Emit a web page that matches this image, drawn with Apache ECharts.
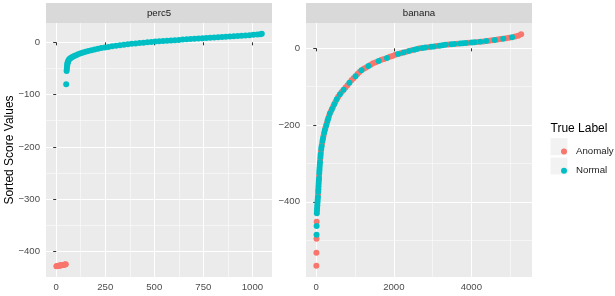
<!DOCTYPE html>
<html>
<head>
<meta charset="utf-8">
<script src="https://cdn.jsdelivr.net/npm/echarts@6/dist/echarts.min.js"></script>
<style>
html, body { margin: 0; padding: 0; background: #fff; }
#chart { width: 615px; height: 296px; }
</style>
</head>
<body>
<div id="chart"></div>
<script>
// perc5 panel: sorted index vs score
var perc5AnomalyX = [1, 5, 9, 13, 17, 21, 25, 29, 33, 37, 41, 45, 49];
var perc5AnomalyY = [-428.5, -428, -428, -427.5, -427, -427, -426.5, -426.5, -426, -426, -425.5, -425, -424.5];

var perc5NormalX = [51, 53, 54, 55, 56, 57, 58, 60, 62, 65, 69, 74, 80, 87, 95, 104, 114, 125, 137, 150,
    164, 180, 196, 213, 230, 248, 266, 285, 305, 325, 345, 365, 385, 405, 425, 445, 465, 485, 505, 525,
    545, 565, 585, 605, 625, 645, 665, 685, 705, 725, 745, 765, 785, 805, 825, 845, 865, 885, 905, 925,
    945, 965, 985, 1005, 1025, 1040, 1048];
var perc5NormalY = [-80, -55, -51, -47, -44, -41, -39, -37, -35, -33, -31.5, -30, -28.5, -27, -25.5, -24, -22.5, -21, -19.5, -18,
    -16.5, -15, -13.5, -12.2, -11, -9.8, -8.7, -7.6, -6.6, -5.6, -4.7, -3.8, -2.9, -2.1, -1.3, -0.6, 0.1, 0.8, 1.4, 2.0,
    2.6, 3.2, 3.7, 4.2, 4.7, 5.2, 5.7, 6.2, 6.7, 7.2, 7.7, 8.2, 8.7, 9.2, 9.7, 10.2, 10.7, 11.2, 11.7, 12.2,
    12.7, 13.2, 13.7, 14.3, 15.0, 15.6, 16.5];

// banana panel: one sorted curve, labels interleaved (A = Anomaly, N = Normal)
var bananaX = [2, 4, 6, 7, 9, 10,
    14, 18, 22, 27, 31, 36, 42, 46, 50, 54, 57, 61, 65, 70, 73, 77, 81, 85, 90, 95, 101, 107, 113, 120,
    128, 138, 150, 162, 175, 189, 204, 222,
    238, 255, 272, 290, 308, 327, 350, 378, 405, 433, 463, 493, 528, 566,
    610, 655, 705, 755, 805, 855, 909,
    960, 1012, 1064, 1115, 1166,
    1226, 1286, 1346, 1406, 1467,
    1538, 1610, 1681, 1752, 1824, 1895,
    1967, 2038, 2110, 2181, 2253, 2324,
    2393, 2462, 2530, 2600, 2668,
    2741, 2815, 2888, 2962, 3035, 3109, 3182,
    3257, 3332, 3407, 3482, 3557, 3634, 3709, 3784,
    3859, 3934, 4009, 4084, 4159, 4234, 4309, 4384,
    4457, 4530, 4604, 4677, 4750, 4824, 4898,
    4975, 5052, 5130, 5210, 5285];
var bananaY = [-567, -533, -496, -486, -463, -452,
    -430, -423, -416, -409, -402, -395, -388, -381, -374, -367, -360, -353, -346, -339, -332, -325, -318, -311, -304, -297, -290, -283, -276, -269,
    -262, -255, -248, -241, -234, -227, -220, -213,
    -207, -201, -195, -189, -183, -177, -170, -164, -158, -152, -146, -140, -133, -126,
    -120, -114, -108, -102, -96, -90, -83,
    -78, -73, -67, -62, -57,
    -53, -50, -46, -43, -39,
    -36, -33, -30, -28, -25, -22,
    -20, -17, -15, -13, -11, -9,
    -7, -5, -3.5, -2, 0,
    1, 2, 3, 4, 5, 6, 7,
    8, 9, 9.7, 10.5, 11, 11.7, 12.3, 13,
    13.7, 14.5, 15, 15.7, 16.5, 17, 18, 19,
    20, 21, 22, 23, 24, 25, 26,
    27.5, 29, 30.5, 33, 37];
var bananaLabel = ('AAANNA' + 'NNNNNNNANNNNNNANNNNNANNANNANNANN' + 'ANANNANANANANA' + 'NANAANA' +
    'ANAAN' + 'AANAA' + 'ANAANA' + 'AANANA' + 'NANNA' + 'NNANNAN' + 'NNANNANN' + 'NANNANAN' +
    'AANAANA' + 'ANAAA').split('');

var perc5XTicks = [0, 250, 500, 750, 1000];
var perc5XMinor = [125, 375, 625, 875];
var perc5YTicks = [-400, -300, -200, -100, 0];
var perc5YMinor = [-350, -250, -150, -50];
var bananaXTicks = [0, 2000, 4000];
var bananaXMinor = [1000, 3000, 5000];
var bananaYTicks = [-400, -200, 0];
var bananaYMinor = [-500, -300, -100];

var anomalyColor = '#F8766D',
    normalColor = '#00BFC4',
    font = '"Liberation Sans", Arial, sans-serif';

function pairs(xs, ys) {
    return xs.map(function (x, i) { return [x, ys[i]]; });
}

function bananaPairs(code) {
    var out = [];
    for (var i = 0; i < bananaX.length; i++) {
        if (bananaLabel[i] === code) out.push([bananaX[i], bananaY[i]]);
    }
    return out;
}

function fmt(v) {
    return v < 0 ? '\u2212' + Math.abs(v) : String(v);
}

function majorAxis(gridIndex, min, max, ticks, isY) {
    return {
        type: 'value',
        gridIndex: gridIndex,
        min: min,
        max: max,
        axisLine: { show: false },
        axisTick: { show: true, length: 3, customValues: ticks, lineStyle: { color: '#333333', width: 1 } },
        axisLabel: {
            customValues: ticks,
            formatter: fmt,
            color: '#4d4d4d',
            fontSize: 9.6,
            fontFamily: font,
            margin: isY ? 6 : 5
        },
        splitLine: { show: true, lineStyle: { color: '#ffffff', width: 1.1 } }
    };
}

function minorAxis(gridIndex, min, max, ticks) {
    return {
        type: 'value',
        gridIndex: gridIndex,
        min: min,
        max: max,
        axisLine: { show: false },
        axisTick: { show: false, customValues: ticks },
        axisLabel: { show: false, customValues: ticks },
        splitLine: { show: true, lineStyle: { color: '#ffffff', width: 0.5 } }
    };
}

function scatter(name, color, xi, yi, data) {
    return {
        name: name,
        type: 'scatter',
        xAxisIndex: xi,
        yAxisIndex: yi,
        symbol: 'circle',
        symbolSize: 6,
        itemStyle: { color: color, opacity: 1 },
        data: data
    };
}

var myChart = echarts.init(document.getElementById('chart'));

var option = {
    animation: false,
    backgroundColor: '#ffffff',
    grid: [
        { left: 46, top: 23, width: 226, height: 254, show: true, backgroundColor: '#ebebeb', borderWidth: 0 },
        { left: 306, top: 23, width: 226, height: 254, show: true, backgroundColor: '#ebebeb', borderWidth: 0 }
    ],
    xAxis: [
        majorAxis(0, -52, 1100, perc5XTicks, false),
        majorAxis(1, -265, 5565, bananaXTicks, false),
        minorAxis(0, -52, 1100, perc5XMinor),
        minorAxis(1, -265, 5565, bananaXMinor)
    ],
    yAxis: [
        majorAxis(0, -449, 37, perc5YTicks, true),
        majorAxis(1, -596, 66, bananaYTicks, true),
        minorAxis(0, -449, 37, perc5YMinor),
        minorAxis(1, -596, 66, bananaYMinor)
    ],
    legend: {
        orient: 'vertical',
        left: 556,
        top: 140.5,
        itemWidth: 6,
        itemHeight: 6,
        itemGap: 7.3,
        data: ['Anomaly', 'Normal'],
        textStyle: { fontSize: 9.7, fontFamily: font, color: '#1a1a1a', lineHeight: 12, padding: [0, 0, 0, 4] }
    },
    graphic: [
        { type: 'rect', shape: { x: 46, y: 3, width: 226, height: 20 }, style: { fill: '#d9d9d9' }, silent: true },
        { type: 'rect', shape: { x: 306, y: 3, width: 226, height: 20 }, style: { fill: '#d9d9d9' }, silent: true },
        { type: 'text', x: 159, y: 13.5, style: { text: 'perc5', textAlign: 'center', textVerticalAlign: 'middle', fontSize: 9.7, fontFamily: font, fill: '#1a1a1a' } },
        { type: 'text', x: 419, y: 13.5, style: { text: 'banana', textAlign: 'center', textVerticalAlign: 'middle', fontSize: 9.7, fontFamily: font, fill: '#1a1a1a' } },
        { type: 'text', x: 9.5, y: 150, rotation: Math.PI / 2, style: { text: 'Sorted Score Values', textAlign: 'center', textVerticalAlign: 'middle', fontSize: 12, fontFamily: font, fill: '#000000' } },
        { type: 'text', x: 550.5, y: 128.5, style: { text: 'True Label', textAlign: 'left', textVerticalAlign: 'middle', fontSize: 12, fontFamily: font, fill: '#000000' } },
        { type: 'rect', z: -1, shape: { x: 550.5, y: 138.2, width: 17, height: 17 }, style: { fill: '#f2f2f2' }, silent: true },
        { type: 'rect', z: -1, shape: { x: 550.5, y: 157.5, width: 17, height: 17 }, style: { fill: '#f2f2f2' }, silent: true }
    ],
    series: [
        scatter('Anomaly', anomalyColor, 0, 0, pairs(perc5AnomalyX, perc5AnomalyY)),
        scatter('Normal', normalColor, 0, 0, pairs(perc5NormalX, perc5NormalY)),
        scatter('Anomaly', anomalyColor, 1, 1, bananaPairs('A')),
        scatter('Normal', normalColor, 1, 1, bananaPairs('N'))
    ]
};

myChart.setOption(option);
</script>
</body>
</html>
